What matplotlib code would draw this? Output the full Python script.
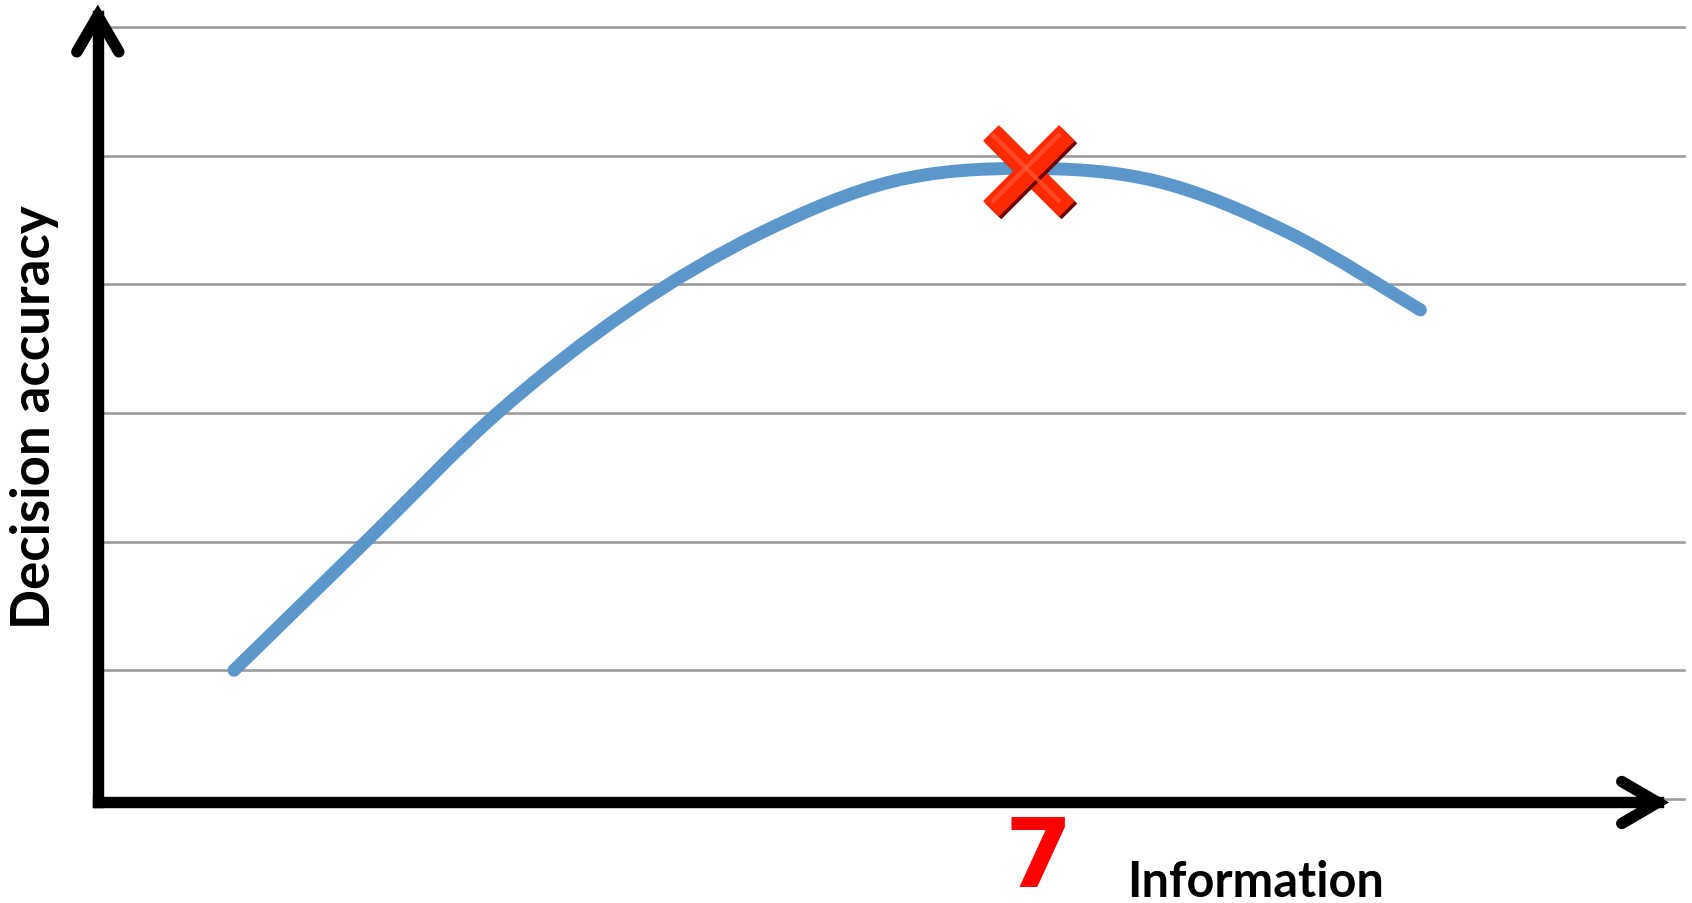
import matplotlib
matplotlib.use("Agg")
import matplotlib.pyplot as plt
import matplotlib.patheffects as pe
import numpy as np
from matplotlib.path import Path
from matplotlib.patches import PathPatch

# amount of information vs decision accuracy
information = [1, 2, 3, 4, 5, 6, 7, 8, 9, 10]
accuracy = [1.0, 2.0, 3.0, 3.8, 4.4, 4.8, 4.9, 4.8, 4.4, 3.8]
grid_levels = [0, 1, 2, 3, 4, 5, 6]
best_label = "7"
x_title = "Information"
y_title = "Decision accuracy"

W, H = 1692, 904
xlim = (-0.775, 12.06)
ylim = (-0.808, 6.216)

fig = plt.figure(figsize=(W / 100, H / 100), dpi=100)
ax = fig.add_axes([0, 0, 1, 1])
ax.set_xlim(*xlim)
ax.set_ylim(*ylim)
ax.axis('off')

# pixel -> data unit helpers
def dx(px):
    return px * (xlim[1] - xlim[0]) / W

def dy(px):
    return px * (ylim[1] - ylim[0]) / H

# horizontal gridlines
for g in grid_levels:
    ax.plot([0, 12], [g, g], color='#9C9C9C', lw=1.9, zorder=1)

# smoothed line (bezier segments, excel style control points)
pts = np.column_stack([information, accuracy]).astype(float)
verts = [pts[0]]
codes = [Path.MOVETO]
n = len(pts)
for i in range(n - 1):
    p0 = pts[max(i - 1, 0)]
    p1 = pts[i]
    p2 = pts[i + 1]
    p3 = pts[min(i + 2, n - 1)]
    verts += [p1 + (p2 - p0) / 6, p2 - (p3 - p1) / 6, p2]
    codes += [Path.CURVE4] * 3
curve = PathPatch(Path(verts, codes), fill=False, edgecolor='#5B97CB', lw=9.3,
                  capstyle='round', joinstyle='round', zorder=2)
ax.add_patch(curve)

# axes with open arrow heads
ax_x0, ax_y0 = -0.033, -0.027
axis_lw = 8.2
ytip = 6.085
xtip = 11.8
ax.plot([ax_x0, ax_x0], [ax_y0, ytip], color='black', lw=axis_lw,
        solid_capstyle='projecting', zorder=3)
ax.plot([ax_x0, xtip], [ax_y0, ax_y0], color='black', lw=axis_lw,
        solid_capstyle='projecting', zorder=3)
ax.plot([ax_x0 - dx(21), ax_x0, ax_x0 + dx(21)], [ytip - dy(36), ytip, ytip - dy(36)],
        color='black', lw=axis_lw, solid_capstyle='round', solid_joinstyle='miter', zorder=3)
ax.plot([xtip - dx(36), xtip, xtip - dx(36)], [ax_y0 + dy(21), ax_y0, ax_y0 - dy(21)],
        color='black', lw=axis_lw, solid_capstyle='round', solid_joinstyle='miter', zorder=3)

# red cross on the best point
k = int(np.argmax(accuracy))
bx, by = information[k], accuracy[k]
cx, cy = bx + 0.03, by - 0.02
half = 38
for sx in (1, -1):
    ax.plot([cx - sx * dx(half), cx + sx * dx(half)], [cy + dy(half), cy - dy(half)],
            color='#FF2A00', lw=16, solid_capstyle='butt', zorder=4,
            path_effects=[pe.SimpleLineShadow(offset=(1.8, -1.8), shadow_color='#6A0000', alpha=1.0),
                          pe.Normal()])
# soft highlight along the bars
for sx in (1, -1):
    ax.plot([cx - sx * dx(half - 4) - dx(3), cx + sx * dx(half - 4) - dx(3)],
            [cy + dy(half - 4) + dy(3), cy - dy(half - 4) + dy(3)],
            color='#FF5A3A', lw=3, solid_capstyle='butt', alpha=0.7, zorder=4)

# labels
ax.text(bx + 0.1, -0.676, best_label, color='#FF0000', fontsize=70, fontfamily='DejaVu Sans',
        fontweight='bold', ha='center', va='baseline')
ax.text(8.75, -0.754, x_title, color='black', fontsize=35, fontfamily='Lato',
        fontweight='bold', ha='center', va='baseline')
ax.text(-0.396, 2.976, y_title, color='black', fontsize=38, fontfamily='Lato',
        fontweight='bold', rotation=90, rotation_mode='anchor', ha='center', va='baseline')

fig.savefig('out.png', dpi=100)
